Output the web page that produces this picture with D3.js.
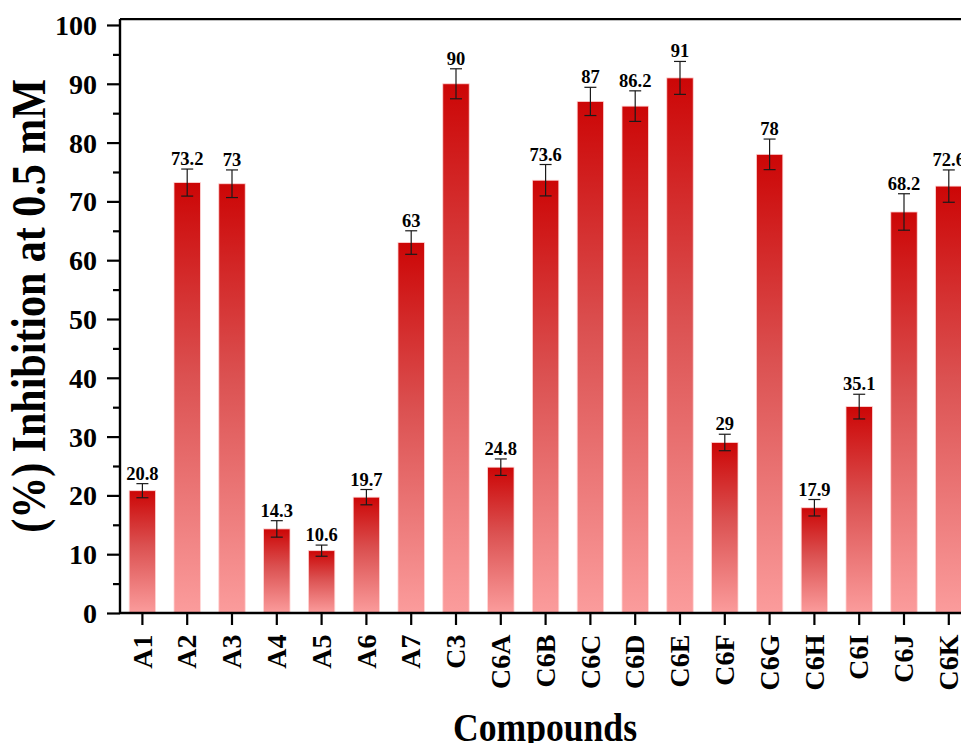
<!DOCTYPE html>
<html>
<head>
<meta charset="utf-8">
<script src="https://cdn.jsdelivr.net/npm/d3@7"></script>
<style>
  html, body { margin: 0; padding: 0; background: #fff; overflow: hidden; }
  svg { display: block; }
  text { font-family: "Liberation Serif", "Times New Roman", serif; font-weight: bold; fill: #000; }
</style>
</head>
<body>
<svg id="chart" width="961" height="743"></svg>
<script>
const categories = ["A1","A2","A3","A4","A5","A6","A7","C3","C6A","C6B","C6C","C6D","C6E","C6F","C6G","C6H","C6I","C6J","C6K"];
const values = [20.8, 73.2, 73, 14.3, 10.6, 19.7, 63, 90, 24.8, 73.6, 87, 86.2, 91, 29, 78, 17.9, 35.1, 68.2, 72.6];
const errors = [1.2, 2.3, 2.35, 1.4, 0.95, 1.3, 2.0, 2.55, 1.4, 2.67, 2.4, 2.6, 2.8, 1.4, 2.6, 1.4, 2.1, 3.1, 2.75];
const yMajorTicks = [0, 10, 20, 30, 40, 50, 60, 70, 80, 90, 100];
const yMinorTicks = [5, 15, 25, 35, 45, 55, 65, 75, 85, 95];
const xTitle = "Compounds";
const yTitle = "(%) Inhibition at 0.5 mM";

const data = categories.map((c, i) => ({ cat: c, v: values[i], e: errors[i] }));

const svg = d3.select("#chart");
const pLeft = 120, pRight = 971.2, pTop = 19.1, pBottom = 613;

const x = d3.scaleBand().domain(categories).range([pLeft, pRight]).paddingInner(0.41).paddingOuter(0.205);
const y = d3.scaleLinear().domain([0, 101]).range([pBottom, pTop]);

const defs = svg.append("defs");
const grad = defs.append("linearGradient").attr("id", "barGrad")
  .attr("x1", 0).attr("y1", 0).attr("x2", 0).attr("y2", 1);
grad.append("stop").attr("offset", "0%").attr("stop-color", "#cc0606");
grad.append("stop").attr("offset", "45%").attr("stop-color", "#db5151");
grad.append("stop").attr("offset", "100%").attr("stop-color", "#fb9c9c");

svg.append("g").selectAll("rect").data(data).join("rect")
  .attr("x", d => x(d.cat))
  .attr("y", d => y(d.v))
  .attr("width", x.bandwidth())
  .attr("height", d => y(0) - y(d.v))
  .attr("fill", "url(#barGrad)")
  .attr("stroke", "#ffd6d6")
  .attr("stroke-width", 0.8);

const eg = svg.append("g").attr("stroke", "#1a1a1a").attr("stroke-width", 1.2);
const capW = 6;
data.forEach(d => {
  const cx = x(d.cat) + x.bandwidth() / 2;
  eg.append("line").attr("x1", cx).attr("x2", cx).attr("y1", y(d.v + d.e)).attr("y2", y(d.v - d.e));
  eg.append("line").attr("x1", cx - capW).attr("x2", cx + capW).attr("y1", y(d.v + d.e)).attr("y2", y(d.v + d.e));
  eg.append("line").attr("x1", cx - capW).attr("x2", cx + capW).attr("y1", y(d.v - d.e)).attr("y2", y(d.v - d.e));
});

svg.append("g").selectAll("text").data(data).join("text")
  .attr("x", d => x(d.cat) + x.bandwidth() / 2)
  .attr("y", d => y(d.v + d.e) - 4)
  .attr("text-anchor", "middle")
  .style("font-size", "18.5px")
  .text(d => d.v);

svg.append("line").attr("x1", pLeft).attr("x2", pRight).attr("y1", pTop).attr("y2", pTop)
  .attr("stroke", "#000").attr("stroke-width", 2.4);

const yAxis = d3.axisLeft(y).tickValues(yMajorTicks).tickSize(13).tickPadding(10).tickFormat(d3.format("d"));
const gy = svg.append("g").attr("transform", `translate(${pLeft},0)`).call(yAxis);
gy.select(".domain").attr("stroke-width", 2.4).attr("d", `M0,${pBottom}V${pTop}`);
gy.selectAll(".tick line").attr("stroke-width", 2.2);
gy.selectAll(".tick text").style("font-size", "28px").style("font-family", "Liberation Serif").style("font-weight", "bold").attr("dy", "0.34em");
const yMinor = d3.axisLeft(y).tickValues(yMinorTicks).tickSize(7).tickFormat("");
const gym = svg.append("g").attr("transform", `translate(${pLeft},0)`).call(yMinor);
gym.select(".domain").remove();
gym.selectAll(".tick line").attr("stroke-width", 2.2);

const xAxis = d3.axisBottom(x).tickSize(12).tickPadding(0);
const gx = svg.append("g").attr("transform", `translate(0,${pBottom})`).call(xAxis);
gx.select(".domain").attr("stroke-width", 2.4).attr("d", `M${pLeft},0H${pRight}`);
gx.selectAll(".tick line").attr("stroke-width", 2.2);
gx.selectAll(".tick text")
  .style("font-size", "28px").style("font-family", "Liberation Serif").style("font-weight", "bold")
  .attr("text-anchor", "end")
  .attr("transform", "translate(0,21.5) rotate(-90)")
  .attr("x", 0).attr("y", 0).attr("dy", "0.33em");

svg.append("text")
  .attr("transform", `translate(545,741) scale(0.89,1)`)
  .attr("text-anchor", "middle")
  .style("font-size", "40px")
  .text(xTitle);

svg.append("text")
  .attr("transform", `translate(45,306) rotate(-90) scale(0.875,1)`)
  .attr("text-anchor", "middle")
  .style("font-size", "48px")
  .text(yTitle);
</script>
</body>
</html>
